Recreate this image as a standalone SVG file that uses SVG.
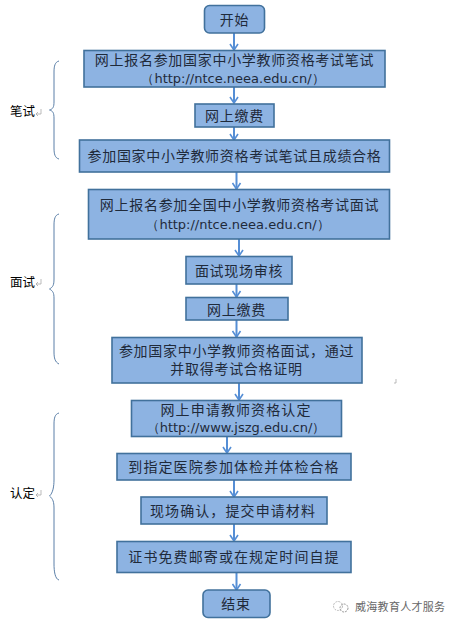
<svg xmlns="http://www.w3.org/2000/svg" width="457" height="627" viewBox="0 0 457 627">
<style>
.b{fill:#8db3e2;stroke:#41719c;stroke-width:1.6}
.t{font-family:"Noto Sans CJK SC","Liberation Sans",sans-serif;font-size:14px;letter-spacing:.7px;fill:#1f2a3a;text-anchor:middle}
.w{letter-spacing:1.100px}
.u{font-family:"DejaVu Sans",sans-serif;font-size:13px;fill:#1f2a3a;text-anchor:middle}
.s{font-family:"Noto Sans CJK SC",sans-serif;font-size:12.500px;fill:#000}
.c{fill:none;stroke:#558ed5;stroke-width:2}
.h{fill:none;stroke:#558ed5;stroke-width:1.600}
.br{fill:none;stroke:#5b7fa8;stroke-width:1}
.r{fill:none;stroke:#aaa;stroke-width:.8}
</style>
<defs>
<marker id="a" markerUnits="userSpaceOnUse" markerWidth="12" markerHeight="10" refX="10" refY="5" orient="auto"><path d="M4 1 L10 5 L4 9" class="h"/></marker>
</defs>
<rect width="457" height="627" fill="#fff"/>
<g id="connectors">
<path class="c" marker-end="url(#a)" d="M234 33V50"/>
<path class="c" marker-end="url(#a)" d="M234 87V103"/>
<path class="c" marker-end="url(#a)" d="M234 127V140"/>
<path class="c" marker-end="url(#a)" d="M236.500 172V189"/>
<path class="c" marker-end="url(#a)" d="M239 239V256"/>
<path class="c" marker-end="url(#a)" d="M236.500 284V297"/>
<path class="c" marker-end="url(#a)" d="M236.500 320V337"/>
<path class="c" marker-end="url(#a)" d="M239 383V400"/>
<path class="c" marker-end="url(#a)" d="M227 436V453"/>
<path class="c" marker-end="url(#a)" d="M234 480V497"/>
<path class="c" marker-end="url(#a)" d="M234 524V541"/>
<path class="c" marker-end="url(#a)" d="M236.500 573V590"/>
</g>
<g id="n1"><rect class="b" x="204.500" y="5.500" width="60" height="27.500" rx="5"/><text class="t" x="234.500" y="24.500">开始</text></g>
<g id="n2"><rect class="b" x="84" y="50.500" width="301" height="36.500"/><text class="t" x="234.500" y="65">网上报名参加国家中小学教师资格考试笔试</text><text class="u" x="233" y="83">（http://ntce.neea.edu.cn/）</text></g>
<g id="n3"><rect class="b" x="195" y="104" width="79" height="23"/><text class="t" x="234.500" y="121">网上缴费</text></g>
<g id="n4"><rect class="b" x="79.500" y="140" width="310" height="32"/><text class="t" x="234.500" y="161">参加国家中小学教师资格考试笔试且成绩合格</text></g>
<g id="n5"><rect class="b" x="88.500" y="189.500" width="301" height="49.500"/><text class="t" x="239.500" y="209.500">网上报名参加全国中小学教师资格考试面试</text><text class="u" x="238" y="229">（http://ntce.neea.edu.cn/）</text></g>
<g id="n6"><rect class="b" x="186" y="256.500" width="106" height="27.500"/><text class="t" x="239" y="275.500">面试现场审核</text></g>
<g id="n7"><rect class="b" x="186" y="297.500" width="102" height="22.500"/><text class="t" x="236.500" y="314.500">网上缴费</text></g>
<g id="n8"><rect class="b" x="112" y="337.500" width="250" height="45.500"/><text class="t" x="236.500" y="355.500">参加国家中小学教师资格面试，通过</text><text class="t" x="236.500" y="374">并取得考试合格证明</text></g>
<g id="n9"><rect class="b" x="131.500" y="400.500" width="210" height="36"/><text class="t w" x="236" y="415">网上申请教师资格认定</text><text class="u" x="236" y="432">（http://www.jszg.edu.cn/）</text></g>
<g id="n10"><rect class="b" x="117" y="453.500" width="234" height="26.500"/><text class="t w" x="234" y="471.500">到指定医院参加体检并体检合格</text></g>
<g id="n11"><rect class="b" x="141" y="497" width="186" height="27"/><text class="t w" x="233" y="515.500">现场确认，提交申请材料</text></g>
<g id="n12"><rect class="b" x="117" y="541.500" width="234" height="31"/><text class="t w" x="234" y="562">证书免费邮寄或在规定时间自提</text></g>
<g id="n13"><rect class="b" x="203" y="590" width="67" height="27.500" rx="5"/><text class="t" x="236" y="608.500">结束</text></g>
<g id="brace1"><path class="br" d="M59 61C55 62 54 66 54 72V102C54 107 53 109 49.500 110C53 111 54 113 54 118V148C54 154 55 158 59 159"/><text class="s" x="10" y="116">笔试</text><path class="r" d="M41 109V114H36M38 112L36 114L38 116"/></g>
<g id="brace2"><path class="br" d="M59 214C55 215 54 219 54 225V279C54 285 53 287 49.500 289C53 291 54 293 54 298V352C54 358 55 362 59 364"/><text class="s" x="10" y="287">面试</text><path class="r" d="M41 279V284H36M38 282L36 284L38 286"/></g>
<g id="brace3"><path class="br" d="M59 413C55 414 54 418 54 424V480C54 486 53 493 49.500 496C53 499 54 502 54 508V564C54 571 55 579 59 580"/><text class="s" x="10" y="498">认定</text><path class="r" d="M41 490V495H36M38 493L36 495L38 497"/></g>
<path class="r" d="M396 379V383H394"/>
<g id="watermark"><circle cx="338" cy="606" r="4.500" fill="none" stroke="#bbb" stroke-width="1" stroke-dasharray="2 1"/><circle cx="344" cy="608" r="4" fill="none" stroke="#999" stroke-width="1" stroke-dasharray="2 1"/><text x="355" y="611" font-family="'Noto Sans CJK SC',sans-serif" font-size="11" letter-spacing=".3" fill="#666">威海教育人才服务</text></g>
</svg>
